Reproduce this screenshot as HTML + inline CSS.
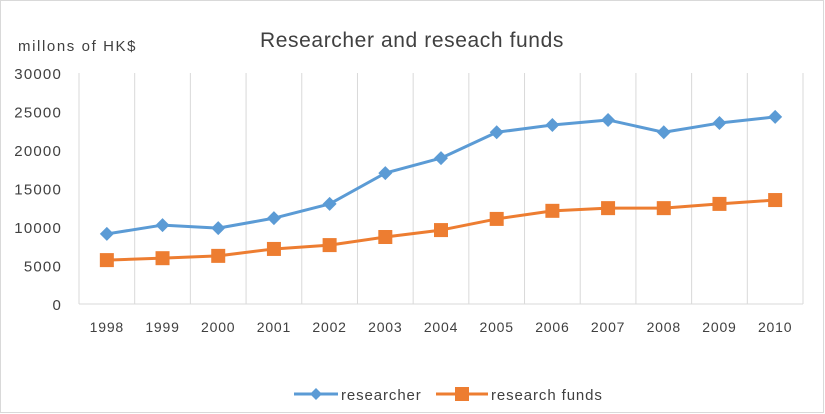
<!DOCTYPE html>
<html><head><meta charset="utf-8"><style>
body{margin:0;background:#fff;}
svg{display:block;font-family:"Liberation Sans",sans-serif;}
</style></head><body>
<svg id="c" width="825" height="414">
<rect x="0.5" y="0.5" width="823" height="412" fill="#fff" stroke="#d9d9d9"/>
<text x="412" y="47" text-anchor="middle" font-size="21" letter-spacing="0.6" fill="#404040">Researcher and reseach funds</text>
<text x="18" y="51" font-size="15" letter-spacing="1.6" fill="#404040">millons of HK$</text>
<g id="grid"></g><g id="marks"></g>
<g>
<g>
<line x1="294" y1="394" x2="338" y2="394" stroke="#5b9bd5" stroke-width="3"/>
<path d="M316 388 L322 394 L316 400 L310 394Z" fill="#5b9bd5"/>
<text x="341" y="400" font-size="15" letter-spacing="0.9" fill="#404040">researcher</text></g>
<g>
<line x1="436" y1="394" x2="488" y2="394" stroke="#ed7d31" stroke-width="3"/>
<rect x="455" y="387" width="14" height="14" fill="#ed7d31"/>
<text x="491" y="400" font-size="15" letter-spacing="0.9" fill="#404040">research funds</text></g>
</g>
</svg>
<script>
const years=["1998","1999","2000","2001","2002","2003","2004","2005","2006","2007","2008","2009","2010"];
const researcher=[9100,10250,9850,11150,13000,17000,18950,22300,23250,23900,22300,23500,24300];
const funds=[5700,5950,6250,7150,7650,8700,9600,11050,12100,12450,12450,13000,13500];
const yTicks=[0,5000,10000,15000,20000,25000,30000];
const L=79,R=803,T=73,B=304,ymax=30000;
const bw=(R-L)/years.length;
const x=i=>L+bw*(i+0.5);
const y=v=>B-(v/ymax)*(B-T);
const NS="http://www.w3.org/2000/svg";
const g=document.getElementById('grid'),m=document.getElementById('marks');
function mk(tag,at,p){const e=document.createElementNS(NS,tag);for(const k in at)e.setAttribute(k,at[k]);p.appendChild(e);return e;}
for(let i=0;i<=years.length;i++){
 const l=mk('line',{x1:L+bw*i,x2:L+bw*i,y1:T,y2:B,stroke:'#d9d9d9','stroke-width':1},g);
 
 
}
const ax=mk('line',{x1:L,x2:R,y1:B,y2:B,stroke:'#d9d9d9','stroke-width':1},g);


yTicks.forEach(v=>{const t=mk('text',{x:62,y:y(v)+6,'text-anchor':'end','font-size':15,'letter-spacing':1.2,fill:'#404040'},g);t.textContent=v;
 
 });
years.forEach((yr,i)=>{const t=mk('text',{x:x(i),y:332,'text-anchor':'middle','font-size':14,'letter-spacing':0.8,fill:'#404040'},g);t.textContent=yr;
 
 });
function series(vals,col,name,shape){
 const p=mk('polyline',{points:vals.map((v,i)=>x(i)+','+y(v)).join(' '),fill:'none',stroke:col,'stroke-width':3,'stroke-linejoin':'round'},m);
 
 
 vals.forEach((v,i)=>{let e;const cx=x(i),cy=y(v);
  if(shape==='d')e=mk('path',{d:`M${cx} ${cy-7}L${cx+7} ${cy}L${cx} ${cy+7}L${cx-7} ${cy}Z`,fill:col},m);
  else e=mk('rect',{x:cx-7,y:cy-7,width:14,height:14,fill:col},m);
  
  });
}
series(researcher,'#5b9bd5','researcher','d');
series(funds,'#ed7d31','research-funds','s');
</script>
</body></html>
